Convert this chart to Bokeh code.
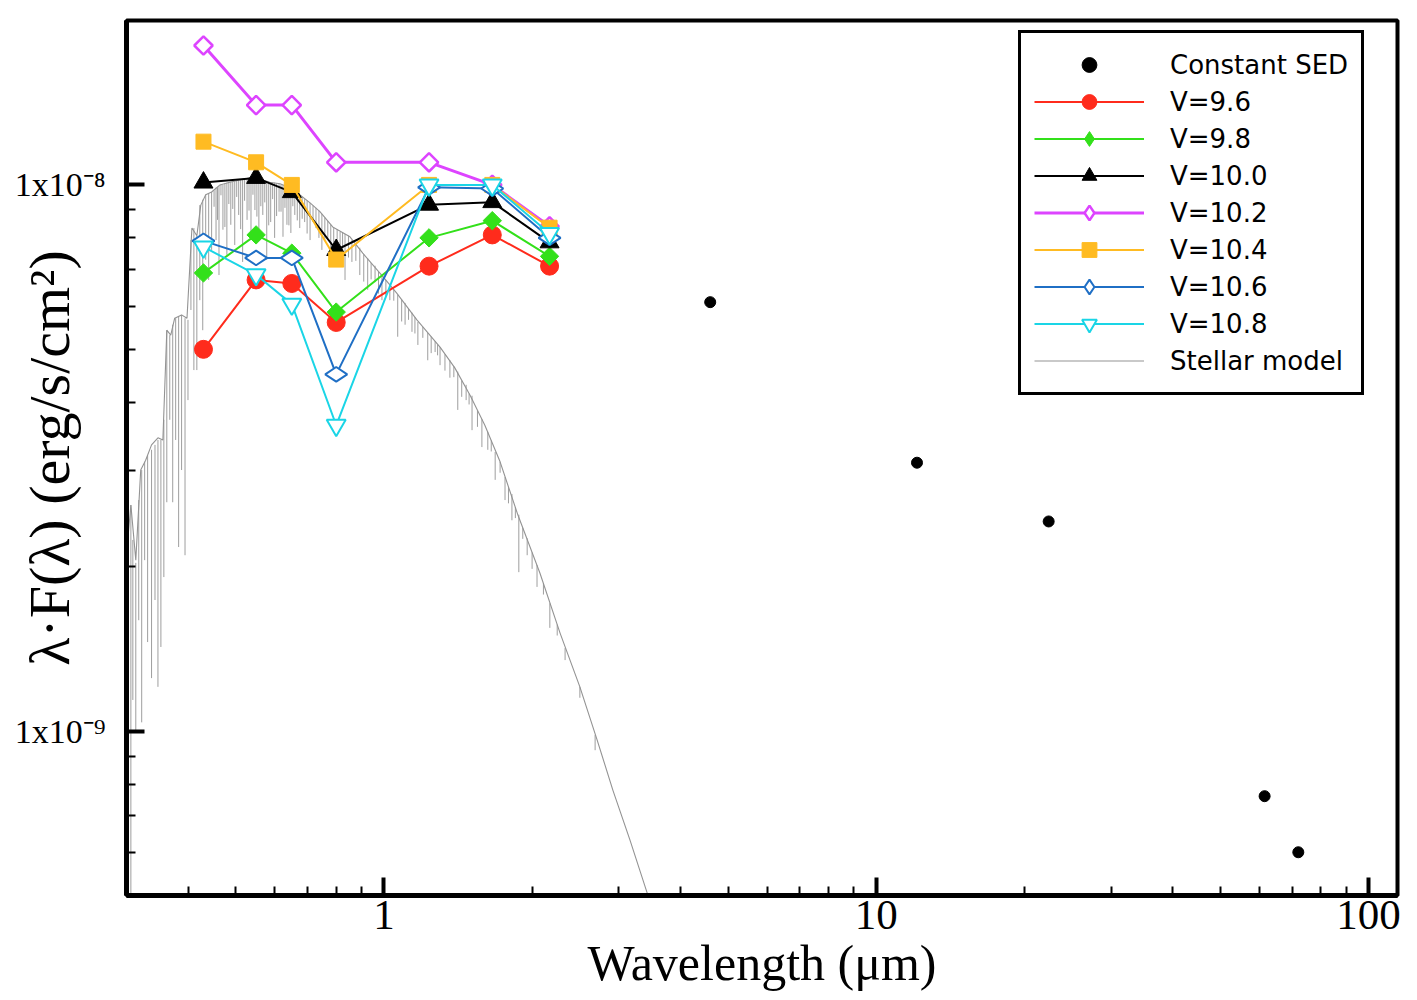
import numpy as np
from bokeh.plotting import figure
from bokeh.models import (Range1d, FixedTicker, BasicTickFormatter, Legend, LegendItem)
from bokeh.embed import file_html
from bokeh.resources import INLINE

# Photometric band wavelengths (micron) shared by the V-magnitude series
band_wavelength = [0.43, 0.55, 0.65, 0.80, 1.235, 1.66, 2.17]

# lambda*F(lambda) in erg/s/cm^2 for each assumed V magnitude
flux_v96 = [5.0e-9, 6.7e-9, 6.6e-9, 5.6e-9, 7.1e-9, 8.1e-9, 7.1e-9]
flux_v98 = [6.9e-9, 8.1e-9, 7.5e-9, 5.85e-9, 8.0e-9, 8.6e-9, 7.4e-9]
flux_v100 = [1.01e-8, 1.03e-8, 9.7e-9, 7.6e-9, 9.2e-9, 9.3e-9, 7.85e-9]
flux_v102 = [1.80e-8, 1.40e-8, 1.40e-8, 1.10e-8, 1.10e-8, 1.0e-8, 8.4e-9]
flux_v104 = [1.20e-8, 1.10e-8, 1.0e-8, 7.3e-9, 1.0e-8, 1.0e-8, 8.35e-9]
flux_v106 = [7.9e-9, 7.35e-9, 7.35e-9, 4.5e-9, 9.9e-9, 9.85e-9, 8.0e-9]
flux_v108 = [7.7e-9, 6.85e-9, 6.05e-9, 3.63e-9, 1.0e-8, 1.0e-8, 8.15e-9]

# Mid/far-infrared points that do not depend on V
const_wavelength = [4.6, 12.1, 22.4, 61.5, 72.0]
const_flux = [6.1e-9, 3.1e-9, 2.42e-9, 7.6e-10, 6.0e-10]

# Stellar model: upper envelope (log10 micron, log10 erg/s/cm^2)
model_log_wl = [-0.524, -0.514, -0.504, -0.494, -0.484, -0.472, -0.459, -0.449,
                -0.441, -0.433, -0.425, -0.411, -0.400, -0.390, -0.380, -0.372,
                -0.362, -0.350, -0.333, -0.313, -0.293, -0.272, -0.252, -0.232,
                -0.211, -0.191, -0.171, -0.150, -0.130, -0.104, -0.069, -0.043,
                -0.002, 0.026, 0.067, 0.114, 0.144, 0.175, 0.205, 0.236,
                0.272, 0.317, 0.358, 0.398, 0.433, 0.465, 0.500, 0.535, 0.561]
model_log_flux = [-8.687, -8.586, -8.687, -8.522, -8.504, -8.476, -8.463, -8.467,
                  -8.266, -8.275, -8.244, -8.238, -8.244, -8.079, -8.093, -8.037,
                  -8.018, -8.013, -8.000, -7.995, -7.991, -7.987, -7.989, -7.995,
                  -7.998, -8.005, -8.018, -8.033, -8.049, -8.077, -8.095, -8.125,
                  -8.168, -8.198, -8.247, -8.297, -8.335, -8.385, -8.440, -8.507,
                  -8.604, -8.711, -8.821, -8.919, -9.016, -9.108, -9.200, -9.297, -9.374]

# Stellar model strong absorption features: position, continuum level, line depth (log10)
line_log_wl = [-0.520, -0.514, -0.510, -0.504, -0.498, -0.492, -0.486, -0.480, -0.472, -0.465,
               -0.459, -0.453, -0.447, -0.441, -0.435, -0.429, -0.423, -0.417, -0.411, -0.404,
               -0.398, -0.392, -0.386, -0.380, -0.374, -0.368, -0.362, -0.356, -0.350, -0.341,
               -0.335, -0.327, -0.319, -0.311, -0.303, -0.295, -0.287, -0.278, -0.270, -0.262,
               -0.254, -0.246, -0.238, -0.230, -0.222, -0.213, -0.205, -0.197, -0.189, -0.181,
               -0.171, -0.161, -0.150, -0.138, -0.126, -0.114, -0.102, -0.089, -0.079, -0.065,
               -0.049, -0.033, -0.018, -0.004, 0.012, 0.028, 0.043, 0.057, 0.069, 0.089,
               0.104, 0.114, 0.134, 0.150, 0.167, 0.179, 0.199, 0.211, 0.226, 0.246,
               0.260, 0.274, 0.291, 0.311, 0.337, 0.368, 0.429]
line_log_top = [-8.696, -8.586, -8.650, -8.692, -8.577, -8.522, -8.507, -8.495, -8.485, -8.476,
                -8.467, -8.467, -8.430, -8.266, -8.275, -8.256, -8.244, -8.240, -8.238, -8.244,
                -8.247, -8.101, -8.079, -8.093, -8.037, -8.027, -8.018, -8.015, -8.013, -8.005,
                -8.002, -8.000, -7.996, -7.995, -7.993, -7.991, -7.991, -7.989, -7.987, -7.987,
                -7.989, -7.991, -7.993, -7.995, -7.996, -7.998, -8.000, -8.004, -8.007, -8.013,
                -8.018, -8.026, -8.033, -8.042, -8.053, -8.066, -8.079, -8.086, -8.090, -8.101,
                -8.115, -8.134, -8.148, -8.165, -8.181, -8.201, -8.216, -8.234, -8.251, -8.271,
                -8.286, -8.297, -8.321, -8.342, -8.366, -8.386, -8.429, -8.452, -8.489, -8.535,
                -8.566, -8.604, -8.647, -8.696, -8.766, -8.848, -9.007]
line_log_bottom = [-8.984, -9.310, -8.943, -8.998, -8.797, -8.984, -8.687, -8.837, -8.903, -8.760,
                   -8.919, -8.846, -8.718, -8.581, -8.430, -8.581, -8.467, -8.663, -8.522, -8.678,
                   -8.394, -8.229, -8.339, -8.339, -8.211, -8.266, -8.137, -8.174, -8.119, -8.101,
                   -8.165, -8.082, -8.128, -8.073, -8.110, -8.055, -8.141, -8.064, -8.101, -8.046,
                   -8.086, -8.055, -8.137, -8.068, -8.097, -8.049, -8.095, -8.073, -8.088, -8.055,
                   -8.079, -8.068, -8.101, -8.079, -8.119, -8.097, -8.141, -8.119, -8.174, -8.141,
                   -8.165, -8.192, -8.178, -8.211, -8.211, -8.278, -8.256, -8.269, -8.293, -8.321,
                   -8.306, -8.330, -8.353, -8.412, -8.394, -8.449, -8.480, -8.485, -8.540, -8.577,
                   -8.614, -8.709, -8.678, -8.736, -8.811, -8.870, -9.035]

# Stellar model weak absorption features (log10)
weak_log_wl = [-0.345, -0.338, -0.331, -0.323, -0.315, -0.307, -0.299, -0.291, -0.283, -0.274,
               -0.266, -0.258, -0.250, -0.242, -0.234, -0.226, -0.218, -0.209, -0.201, -0.193,
               -0.185, -0.176, -0.166, -0.156, -0.144, -0.132, -0.120, -0.108, -0.095, -0.084,
               -0.072, -0.057, -0.041, -0.026, -0.011, 0.004, 0.020, 0.036, 0.050, 0.063,
               0.079, 0.096, 0.109, 0.124, 0.142, 0.158, 0.173, 0.190, 0.218, 0.236,
               0.253, 0.267, 0.282, 0.301, 0.324, 0.352, 0.398]
weak_log_top = [-8.010, -8.004, -7.999, -7.997, -7.995, -7.994, -7.992, -7.991, -7.989, -7.987,
                -7.988, -7.988, -7.989, -7.992, -7.994, -7.996, -7.997, -7.999, -8.002, -8.004,
                -8.009, -8.015, -8.022, -8.029, -8.038, -8.047, -8.060, -8.073, -8.081, -8.087,
                -8.093, -8.109, -8.127, -8.143, -8.159, -8.174, -8.192, -8.210, -8.227, -8.242,
                -8.260, -8.278, -8.292, -8.310, -8.332, -8.358, -8.382, -8.413, -8.468, -8.507,
                -8.553, -8.590, -8.628, -8.673, -8.730, -8.805, -8.919]
weak_log_bottom = [-8.040, -8.064, -8.019, -8.077, -8.035, -8.044, -8.022, -8.081, -8.029, -8.047,
                   -8.018, -8.058, -8.039, -8.032, -8.074, -8.026, -8.057, -8.049, -8.042, -8.074,
                   -8.039, -8.065, -8.062, -8.089, -8.068, -8.097, -8.100, -8.133, -8.111, -8.137,
                   -8.133, -8.139, -8.177, -8.173, -8.199, -8.204, -8.212, -8.250, -8.247, -8.272,
                   -8.280, -8.308, -8.312, -8.340, -8.352, -8.388, -8.402, -8.443, -8.488, -8.527,
                   -8.583, -8.610, -8.648, -8.703, -8.750, -8.825, -8.939]

# Axis ticks and their labels
x_major_ticks = [1, 10, 100]
x_minor_ticks = [0.3, 0.4, 0.5, 0.6, 0.7, 0.8, 0.9, 2, 3, 4, 5, 6, 7, 8, 9,
                 20, 30, 40, 50, 60, 70, 80, 90]
y_major_ticks = [1e-9, 1e-8]
y_tick_labels = ["1x10\u207b\u2079", "1x10\u207b\u2078"]
y_minor_ticks = [6e-10, 7e-10, 8e-10, 9e-10, 2e-9, 3e-9, 4e-9, 5e-9, 6e-9, 7e-9,
                 8e-9, 9e-9, 2e-8]

series_labels = ["V=9.6", "V=9.8", "V=10.0", "V=10.2", "V=10.4", "V=10.6", "V=10.8"]
series_fluxes = [flux_v96, flux_v98, flux_v100, flux_v102, flux_v104, flux_v106, flux_v108]

# Marker styling per series; "key" is the marker used for the legend swatch
series_styles = [
    dict(color="#ff2b1c", marker="circle", size=18, fill="#ff2b1c", angle=0.0, lw=2, mlw=1, key=None),
    dict(color="#33e01a", marker="square", size=13, fill="#33e01a", angle=np.pi / 4, lw=2, mlw=1, key="diamond"),
    dict(color="#000000", marker="triangle", size=19, fill="#000000", angle=0.0, lw=2, mlw=1, key=None),
    dict(color="#dd44ff", marker="square", size=13, fill="white", angle=np.pi / 4, lw=3, mlw=2.5, key="diamond"),
    dict(color="#ffbb22", marker="square", size=15, fill="#ffbb22", angle=0.0, lw=2, mlw=1, key=None),
    dict(color="#1f6fc5", marker="diamond", size=22, fill="white", angle=np.pi / 2, lw=2, mlw=2, key="diamond"),
    dict(color="#1ad5e6", marker="inverted_triangle", size=19, fill="white", angle=0.0, lw=2, mlw=2, key=None),
]

SERIF = "Liberation Serif"
SANS = "DejaVu Sans"
MODEL_GREY = "#939393"

p = figure(width=1417, height=1000, x_axis_type="log", y_axis_type="log",
           x_range=Range1d(0.3, 114.5), y_range=Range1d(5.0e-10, 2.0e-8),
           output_backend="svg", toolbar_location=None,
           min_border_left=126, min_border_right=20, min_border_top=20, min_border_bottom=105)
p.background_fill_color = "white"
p.border_fill_color = "white"
p.grid.visible = False
p.outline_line_color = "black"
p.outline_line_width = 4
p.outline_line_alpha = 1.0

# --- stellar model spectrum ---
r_model = p.line([10 ** v for v in model_log_wl], [10 ** v for v in model_log_flux],
                 line_color=MODEL_GREY, line_width=1.1)
for wl_list, top_list, bot_list in ((line_log_wl, line_log_top, line_log_bottom),
                                     (weak_log_wl, weak_log_top, weak_log_bottom)):
    wl_lin = [10 ** v for v in wl_list]
    p.segment(x0=wl_lin, y0=[10 ** v for v in top_list],
              x1=wl_lin, y1=[10 ** v for v in bot_list],
              line_color=MODEL_GREY, line_width=0.9)

# --- constant infrared SED ---
r_const = p.scatter(const_wavelength, const_flux, marker="circle", size=11,
                    fill_color="black", line_color="black")

items = [LegendItem(label="Constant SED", renderers=[r_const])]

# --- photometry for each V magnitude ---
for label, flux, st in zip(series_labels, series_fluxes, series_styles):
    rl = p.line(band_wavelength, flux, line_color=st["color"], line_width=st["lw"])
    rs = p.scatter(band_wavelength, flux, marker=st["marker"], size=st["size"],
                   angle=st["angle"], fill_color=st["fill"], line_color=st["color"],
                   line_width=st["mlw"])
    if st["key"] is None:
        items.append(LegendItem(label=label, renderers=[rl, rs]))
    else:
        # legend swatches are drawn unrotated, so give them an upright diamond
        rk = p.scatter([np.nan], [np.nan], marker=st["key"], fill_color=st["fill"],
                       line_color=st["color"], line_width=st["mlw"])
        items.append(LegendItem(label=label, renderers=[rl, rk]))

items.append(LegendItem(label="Stellar model", renderers=[r_model]))

# --- axes ---
xa = p.xaxis[0]
xa.ticker = FixedTicker(ticks=x_major_ticks, minor_ticks=x_minor_ticks)
xa.formatter = BasicTickFormatter()
xa.axis_label = "Wavelength (\u03bcm)"
ya = p.yaxis[0]
ya.ticker = FixedTicker(ticks=y_major_ticks, minor_ticks=y_minor_ticks)
ya.major_label_overrides = dict(zip(y_major_ticks, y_tick_labels))
ya.axis_label = "\u03bb\u00b7F(\u03bb) (erg/s/cm\u00b2)"

for ax in (xa, ya):
    ax.axis_line_color = "black"
    ax.axis_line_width = 5
    ax.major_tick_line_color = "black"
    ax.minor_tick_line_color = "black"
    ax.major_tick_line_width = 4
    ax.minor_tick_line_width = 2
    ax.major_tick_in = 18
    ax.major_tick_out = 0
    ax.minor_tick_in = 9
    ax.minor_tick_out = 0
    ax.major_label_text_font = SERIF
    ax.major_label_text_color = "black"
    ax.axis_label_text_font = SERIF
    ax.axis_label_text_font_style = "normal"
    ax.axis_label_text_color = "black"

xa.major_label_text_font_size = "43px"
xa.major_label_standoff = 5
xa.axis_label_text_font_size = "50px"
xa.axis_label_standoff = 3
ya.major_label_text_font_size = "34px"
ya.major_label_standoff = 21
# the vertical title sits alongside the tick labels rather than outside them
ya.axis_label_text_font_size = "58px"
ya.axis_label_standoff = -70

# --- legend ---
legend = Legend(items=items, location=(892, 500), margin=0,
                label_text_font=SANS, label_text_font_size="26px",
                label_text_color="black",
                glyph_width=110, glyph_height=37, label_height=37,
                spacing=0, padding=13, label_standoff=26,
                border_line_color="black", border_line_width=3, border_line_alpha=1.0,
                background_fill_color="white", background_fill_alpha=1.0)
p.add_layout(legend)

open("out.html", "w").write(file_html(p, INLINE))
